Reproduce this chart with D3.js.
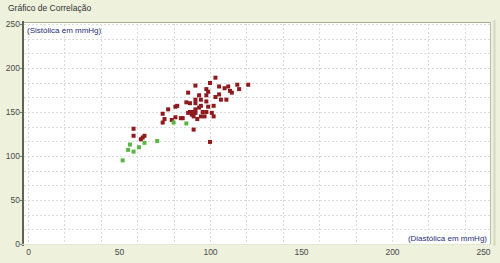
<!DOCTYPE html>
<html>
<head>
<meta charset="utf-8">
<script src="https://cdn.jsdelivr.net/npm/d3@7"></script>
<style>
body { margin: 0; background: #eef1dc; }
text { font-family: "Liberation Sans", Arial, sans-serif; }
</style>
</head>
<body>
<div class="chart"></div>
<script>

// diastolica (x), sistolica (y)
var redX = [58, 58, 62, 63, 64, 74, 77, 75, 74, 79, 81, 81, 82,
    103, 100, 92, 98, 99, 105, 110, 115, 121, 116, 108, 111, 112, 88, 94, 98, 105, 106, 109, 103,
    92, 95, 87, 89, 92, 95, 98, 99, 102,
    94, 92, 89, 91, 88, 90, 92, 96, 95, 93, 97, 101, 102,
    84, 85, 91, 100, 98, 91];
var redY = [131, 123, 119, 121, 123, 148, 153, 142, 138, 141, 144, 156, 157,
    189, 183, 180, 176, 173, 179, 179, 181, 181, 176, 177, 174, 172, 172, 169, 169, 170, 164, 164, 167,
    164, 164, 161, 160, 160, 157, 162, 156, 157,
    155, 153, 150, 150, 149, 147, 149, 150, 145, 142, 145, 149, 145,
    143, 143, 130, 116, 150, 145];

var greenX = [52, 55, 58, 56, 61, 64, 71, 80, 87];
var greenY = [95, 107, 105, 113, 110, 115, 117, 138, 137];

var xTicks = [0, 50, 100, 150, 200, 250];
var yTicks = [0, 50, 100, 150, 200, 250];

var width = 500;
var height = 263;

var xScale = d3.scaleLinear().domain([0, 250]).range([28, 483]);
var yScale = d3.scaleLinear().domain([0, 250]).range([244, 24]);

var svg = d3.select(".chart")
    .append("svg")
    .attr("width", width)
    .attr("height", height);

svg.append("rect")
    .attr("width", width)
    .attr("height", height)
    .attr("fill", "#eef1dc");

svg.append("text")
    .attr("x", 8)
    .attr("y", 11)
    .attr("font-size", "8.5px")
    .attr("fill", "#333")
    .text("Gráfico de Correlação");

// plot area
svg.append("rect")
    .attr("x", 23)
    .attr("y", 23)
    .attr("width", 467)
    .attr("height", 221)
    .attr("fill", "#ffffff");

// frame
svg.append("line")
    .attr("x1", 23).attr("x2", 490)
    .attr("y1", 22.5).attr("y2", 22.5)
    .attr("stroke", "#a9ad98");
svg.append("line")
    .attr("x1", 490.5).attr("x2", 490.5)
    .attr("y1", 22).attr("y2", 244)
    .attr("stroke", "#b8bca6");
svg.append("line")
    .attr("x1", 494.5).attr("x2", 494.5)
    .attr("y1", 20).attr("y2", 246)
    .attr("stroke", "#d5d9c2")
    .attr("stroke-width", 2);

// grid
var vGrid = d3.range(0, 251, 20);
var hGrid = d3.range(1, 16).map(function(i) { return i * 50 / 3; });

svg.selectAll(".vgrid")
    .data(vGrid)
    .enter().append("line")
    .attr("class", "vgrid")
    .attr("x1", function(d) { return Math.round(xScale(d)) + 0.5; })
    .attr("x2", function(d) { return Math.round(xScale(d)) + 0.5; })
    .attr("y1", 24)
    .attr("y2", 244)
    .attr("stroke", "#dcdcdc")
    .attr("stroke-dasharray", "2,2");

svg.selectAll(".hgrid")
    .data(hGrid)
    .enter().append("line")
    .attr("class", "hgrid")
    .attr("x1", 24)
    .attr("x2", 490)
    .attr("y1", function(d) { return Math.round(yScale(d)) + 0.5; })
    .attr("y2", function(d) { return Math.round(yScale(d)) + 0.5; })
    .attr("stroke", "#dcdcdc")
    .attr("stroke-dasharray", "2,2");

// axes
var yAxis = d3.axisLeft(yScale)
    .tickValues(yTicks)
    .tickSize(3)
    .tickSizeOuter(0);

var xAxis = d3.axisBottom(xScale)
    .tickValues(xTicks)
    .tickSize(0)
    .tickSizeOuter(0);

var gy = svg.append("g")
    .attr("transform", "translate(23,0)")
    .call(yAxis);
gy.select(".domain").remove();
gy.selectAll("line").attr("stroke", "#7d8270");
gy.selectAll("text")
    .attr("x", -3)
    .attr("font-size", "8.5px")
    .attr("font-family", "'Liberation Sans', Arial, sans-serif")
    .attr("fill", "#4a4a4a");

svg.append("line")
    .attr("x1", 23).attr("x2", 23)
    .attr("y1", 21).attr("y2", 246)
    .attr("stroke", "#5f6452")
    .attr("stroke-width", 2);

var gx = svg.append("g")
    .attr("transform", "translate(0,244)")
    .call(xAxis);
gx.select(".domain").remove();
gx.selectAll("text")
    .attr("y", 5)
    .attr("font-size", "8.5px")
    .attr("font-family", "'Liberation Sans', Arial, sans-serif")
    .attr("fill", "#4a4a4a");

svg.append("line")
    .attr("x1", 22).attr("x2", 491)
    .attr("y1", 244.5).attr("y2", 244.5)
    .attr("stroke", "#e3e6d0");

// axis titles
svg.append("text")
    .attr("x", 27)
    .attr("y", 33)
    .attr("font-size", "8px")
    .attr("fill", "#1f2f78")
    .text("(Sistólica em mmHg)");

svg.append("text")
    .attr("x", 487)
    .attr("y", 241)
    .attr("text-anchor", "end")
    .attr("font-size", "8px")
    .attr("fill", "#1f2f78")
    .text("(Diastólica em mmHg)");

// points
var redData = redX.map(function(d, i) { return {x: d, y: redY[i]}; });
var greenData = greenX.map(function(d, i) { return {x: d, y: greenY[i]}; });

svg.selectAll(".red")
    .data(redData)
    .enter().append("rect")
    .attr("class", "red")
    .attr("x", function(d) { return xScale(d.x) - 2; })
    .attr("y", function(d) { return yScale(d.y) - 2; })
    .attr("width", 4)
    .attr("height", 4)
    .attr("fill", "#8e1a1e");

svg.selectAll(".green")
    .data(greenData)
    .enter().append("rect")
    .attr("class", "green")
    .attr("x", function(d) { return xScale(d.x) - 2; })
    .attr("y", function(d) { return yScale(d.y) - 2; })
    .attr("width", 4)
    .attr("height", 4)
    .attr("fill", "#5cb445");

</script>
</body>
</html>
